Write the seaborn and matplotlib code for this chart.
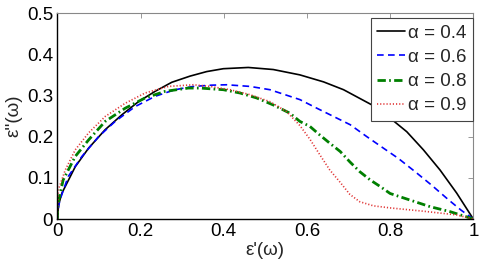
import matplotlib
matplotlib.use("Agg")
import matplotlib.pyplot as plt
import seaborn as sns
import pandas as pd

# ---- data ----
labels = ["α = 0.4", "α = 0.6", "α = 0.8", "α = 0.9"]

x04 = [0, 0.003, 0.011, 0.043, 0.075, 0.115, 0.155, 0.195, 0.235, 0.275, 0.319, 0.359,
       0.399, 0.459, 0.519, 0.583, 0.64, 0.688, 0.76, 0.80, 0.84, 0.88, 0.92, 0.96, 1.0]
y04 = [0, 0.035, 0.063, 0.127, 0.172, 0.217, 0.253, 0.285, 0.31, 0.332, 0.347, 0.358,
       0.365, 0.368, 0.363, 0.350, 0.333, 0.314, 0.275, 0.245, 0.212, 0.168, 0.119, 0.063, 0]

x06 = [0, 0.002, 0.006, 0.026, 0.059, 0.099, 0.139, 0.187, 0.235, 0.283, 0.327, 0.37,
       0.407, 0.463, 0.511, 0.559, 0.583, 0.624, 0.664, 0.704, 0.744, 0.784, 0.82, 0.86,
       0.9, 0.94, 0.97, 1.0]
y06 = [0, 0.025, 0.046, 0.103, 0.152, 0.2, 0.237, 0.273, 0.298, 0.314, 0.322, 0.325,
       0.326, 0.322, 0.314, 0.298, 0.29, 0.269, 0.249, 0.229, 0.2, 0.172, 0.147, 0.115,
       0.082, 0.047, 0.022, 0]

x08 = [0, 0.001, 0.004, 0.014, 0.043, 0.075, 0.115, 0.163, 0.211, 0.259, 0.315, 0.343,
       0.399, 0.439, 0.479, 0.519, 0.559, 0.583, 0.607, 0.631, 0.655, 0.68, 0.703, 0.727,
       0.752, 0.776, 0.8, 0.848, 0.896, 0.944, 1.0]
y08 = [0, 0.03, 0.05, 0.095, 0.152, 0.192, 0.237, 0.269, 0.294, 0.31, 0.318, 0.318,
       0.314, 0.306, 0.294, 0.277, 0.257, 0.237, 0.225, 0.204, 0.184, 0.164, 0.139, 0.115,
       0.095, 0.079, 0.062, 0.046, 0.03, 0.018, 0]

x09 = [0, 0.001, 0.002, 0.019, 0.043, 0.075, 0.115, 0.163, 0.211, 0.267, 0.327, 0.367,
       0.415, 0.463, 0.511, 0.551, 0.583, 0.607, 0.631, 0.655, 0.68, 0.703, 0.727, 0.76,
       0.80, 0.88, 0.96, 1.0]
y09 = [0, 0.04, 0.07, 0.119, 0.168, 0.209, 0.249, 0.281, 0.306, 0.322, 0.326, 0.322,
       0.314, 0.302, 0.285, 0.261, 0.227, 0.194, 0.156, 0.119, 0.089, 0.06, 0.042, 0.032,
       0.027, 0.019, 0.01, 0]

xticks = [0, 0.2, 0.4, 0.6, 0.8, 1]
yticks = [0, 0.1, 0.2, 0.3, 0.4, 0.5]
xticklabels = ["0", "0.2", "0.4", "0.6", "0.8", "1"]
yticklabels = ["0", "0.1", "0.2", "0.3", "0.4", "0.5"]

sns.set_style("white")
plt.rcParams["font.family"] = ["Liberation Sans", "DejaVu Sans"]

FS = 13.5

fig = plt.figure(figsize=(4.82, 2.62), dpi=100)
ax = fig.add_axes([0.119, 0.164, 0.863, 0.786])

series = [
    (x04, y04, labels[0], "black", "-", 1.2),
    (x06, y06, labels[1], "#0000ff", (0, (4.0, 2.6)), 1.2),
    (x08, y08, labels[2], "#007f00", (0, (3.0, 1.2, 0.6, 1.2)), 2.0),
    (x09, y09, labels[3], "#e03535", (0, (0.7, 1.2)), 1.2),
]
for xs, ys, lab, col, ls, lw in series:
    df = pd.DataFrame({"x": xs, "y": ys})
    sns.lineplot(data=df, x="x", y="y", ax=ax, sort=False, estimator=None,
                 color=col, linestyle=ls, linewidth=lw, label=lab)

ax.set_xlim(0, 1)
ax.set_ylim(0, 0.5)
ax.set_xticks(xticks)
ax.set_xticklabels(xticklabels)
ax.set_yticks(yticks)
ax.set_yticklabels(yticklabels)
ax.tick_params(direction="in", length=3.5, width=0.6, labelsize=FS, pad=3,
               top=True, right=True, colors="#888888", labelcolor="black")
for s in ["left", "bottom"]:
    ax.spines[s].set_color("black")
    ax.spines[s].set_linewidth(1.0)
for s in ["top", "right"]:
    ax.spines[s].set_color("#888888")
    ax.spines[s].set_linewidth(0.8)

ax.set_xlabel("ε'(ω)", fontsize=FS, labelpad=1)
ax.set_ylabel("ε''(ω)", fontsize=FS, labelpad=3)

leg = ax.legend(loc="upper right", bbox_to_anchor=(1.0, 0.976), borderaxespad=0,
                fancybox=False, framealpha=1, edgecolor="#444444", fontsize=FS,
                handlelength=1.5, handletextpad=0.15, labelspacing=0.38,
                borderpad=0.35)
leg.get_frame().set_linewidth(0.8)

fig.savefig("out.png", dpi=100)
